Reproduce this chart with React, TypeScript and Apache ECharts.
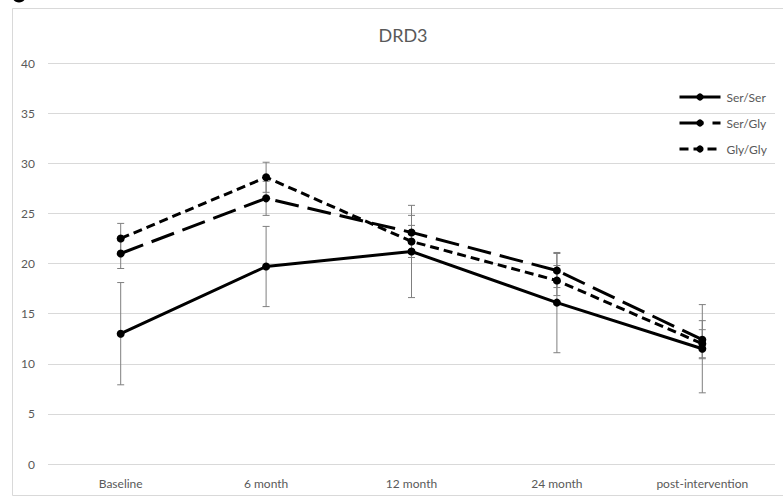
import React, { useEffect, useRef } from "react";
import * as echarts from "echarts";

const categories = ["Baseline", "6 month", "12 month", "24 month", "post-intervention"];
const yTicks = [0, 5, 10, 15, 20, 25, 30, 35, 40];
const serSer = [13.0, 19.7, 21.2, 16.1, 11.5];
const serSerErr = [5.1, 4.0, 4.6, 5.0, 4.4];
const serGly = [21.0, 26.5, 23.1, 19.3, 12.4];
const serGlyErr = [1.5, 1.7, 1.7, 1.7, 1.9];
const glyGly = [22.5, 28.6, 22.2, 18.3, 12.0];
const glyGlyErr = [1.5, 1.5, 1.6, 1.5, 1.4];
const seriesNames = ["Ser/Ser", "Ser/Gly", "Gly/Gly"];

const FONT = "Lato, 'Open Sans', sans-serif";

function errData(means: number[], errs: number[]) {
  return means.map((m, i) => [i, m - errs[i], m + errs[i]]);
}

function errorSeries(name: string, means: number[], errs: number[]) {
  return {
    type: "custom",
    name: name + " err",
    z: 1,
    silent: true,
    data: errData(means, errs),
    renderItem: (_params: any, api: any) => {
      const x = api.value(0);
      const lo = api.coord([x, api.value(1)]);
      const hi = api.coord([x, api.value(2)]);
      const cap = 3.5;
      const style = { stroke: "#7f7f7f", lineWidth: 1 };
      return {
        type: "group",
        children: [
          { type: "line", shape: { x1: lo[0], y1: lo[1], x2: hi[0], y2: hi[1] }, style },
          { type: "line", shape: { x1: lo[0] - cap, y1: lo[1], x2: lo[0] + cap, y2: lo[1] }, style },
          { type: "line", shape: { x1: hi[0] - cap, y1: hi[1], x2: hi[0] + cap, y2: hi[1] }, style },
        ],
      };
    },
  };
}

function lineSeries(name: string, data: number[], dash: any) {
  return {
    type: "line",
    name,
    data,
    z: 3,
    symbol: "circle",
    symbolSize: 8,
    itemStyle: { color: "#000" },
    lineStyle: { color: "#000", width: 3, type: dash },
  };
}

export default function App() {
  const ref = useRef<HTMLDivElement>(null);
  useEffect(() => {
    if (!ref.current) return;
    const chart = echarts.init(ref.current, null, { renderer: "svg" });
    chart.setOption({
      animation: false,
      backgroundColor: "#fff",
      textStyle: { fontFamily: FONT },
      title: {
        text: "DRD3",
        left: 398,
        top: 21,
        textAlign: "center",
        textStyle: { fontFamily: FONT, fontSize: 18, fontWeight: "normal", color: "#595959" },
      },
      legend: {
        orient: "vertical",
        left: 673,
        top: 86,
        itemWidth: 41,
        itemHeight: 9,
        itemGap: 14,
        data: seriesNames,
        lineStyle: { width: 3 },
        textStyle: { fontFamily: FONT, fontSize: 12, color: "#595959", padding: [0, 0, 0, 1] },
      },
      grid: { left: 48, right: 8, top: 63, bottom: 34 },
      xAxis: {
        type: "category",
        data: categories,
        boundaryGap: true,
        axisLine: { show: false },
        axisTick: { show: false },
        axisLabel: { color: "#595959", fontSize: 12, fontFamily: FONT, margin: 13 },
      },
      yAxis: {
        type: "value",
        min: yTicks[0],
        max: yTicks[yTicks.length - 1],
        interval: 5,
        axisLine: { show: false },
        axisTick: { show: false },
        axisLabel: { color: "#595959", fontSize: 12, fontFamily: FONT, margin: 13 },
        splitLine: { lineStyle: { color: "#d9d9d9", width: 1 } },
      },
      graphic: [
        {
          type: "rect",
          shape: { x: 12.5, y: 8.5, width: 800, height: 487 },
          style: { fill: "none", stroke: "#d9d9d9", lineWidth: 1 },
          z: -10,
          silent: true,
        },
        {
          type: "ellipse",
          shape: { cx: 19, cy: -2, rx: 6, ry: 4.5 },
          style: { fill: "#000" },
          silent: true,
        },
      ],
      series: [
        errorSeries("Ser/Ser", serSer, serSerErr),
        errorSeries("Ser/Gly", serGly, serGlyErr),
        errorSeries("Gly/Gly", glyGly, glyGlyErr),
        lineSeries("Ser/Ser", serSer, "solid"),
        lineSeries("Ser/Gly", serGly, [24, 9]),
        lineSeries("Gly/Gly", glyGly, [9, 5]),
      ],
    });
    return () => chart.dispose();
  }, []);
  return (
    <div
      ref={ref}
      style={{ position: "fixed", left: 0, top: 0, width: 783, height: 498 }}
    />
  );
}
